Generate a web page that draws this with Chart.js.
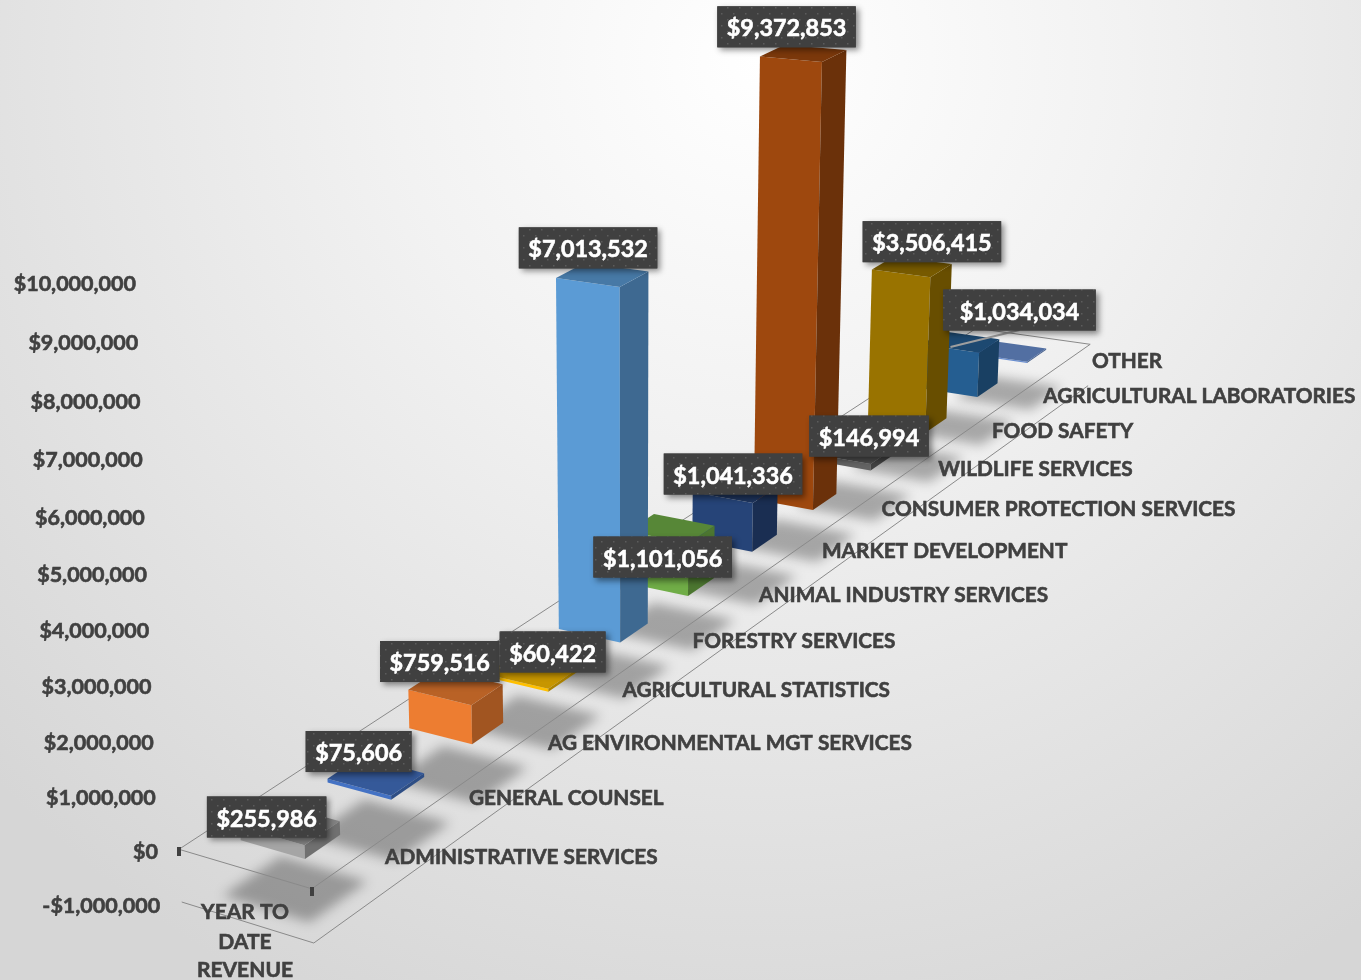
<!DOCTYPE html>
<html>
<head>
<meta charset="utf-8">
<style>html,body{margin:0;padding:0;background:#e6e6e6}canvas{display:block}</style>
<script src="https://cdn.jsdelivr.net/npm/chart.js@4"></script>
</head>
<body>
<canvas id="c" width="1361" height="980"></canvas>
<script>
const categories = ['ADMINISTRATIVE SERVICES','GENERAL COUNSEL','AG ENVIRONMENTAL MGT SERVICES','AGRICULTURAL STATISTICS','FORESTRY SERVICES','ANIMAL INDUSTRY SERVICES','MARKET DEVELOPMENT','CONSUMER PROTECTION SERVICES','WILDLIFE SERVICES','FOOD SAFETY','AGRICULTURAL LABORATORIES','OTHER'];
const revenue = [255986,75606,759516,60422,7013532,1101056,1041336,9372853,146994,3506415,1034034,30000];
const labelled = [true,true,true,true,true,true,true,true,true,true,true,false];
const barColors = ['#A5A5A5','#4472C4','#ED7D31','#FFC000','#5B9BD5','#70AD47','#264478','#9E480E','#636363','#997300','#255E91','#698ED0'];
const seriesName = ['YEAR TO','DATE','REVENUE'];
const axisMin = -1000000, axisMax = 10000000, axisStep = 1000000;

// label nudges (px) from the top centre of each box, as placed by hand in the original: dx, dy, side padding
const labelNudge = [[-23.2,-7,19],[-17.1,-24.4,19],[-15.7,-25.5,19],[20.8,-19.5,19],[-14.1,-26.8,19],[-8.3,28.6,19],[-2.1,-15.2,19],[-16.6,-26.4,19],[16.3,-15.2,19],[20.1,-25.1,19],[58.8,-31.8,33],[0,0,0]];

// Perspective camera: u = depth along categories, w = across a row, h = value in millions
function project(u, w, h) {
  const d = 1 + 0.03234*u + 0.0157*w - 0.00618*h;
  return { x: (305 + 98.85*u - 60.5*w - 3.9*h)/d, y: (859 - 33.35*u - 5.5*w - 59.02*h)/d };
}
// anchor of each category name beside the floor
function rowAnchor(i) {
  const d = 1 + 0.03161*i;
  return { x: (385 + 98.8*i)/d, y: (857 - 33.6*i)/d };
}
const BAR_DEPTH = 0.4, FLOOR = {u0:-0.314, u1:11.7, w0:-0.53, w1:1.529};
const TEXT = '#404040', FONT = 'Lato';

function shade(hex, f) {
  const n = parseInt(hex.slice(1),16);
  return 'rgb('+[(n>>16)&255,(n>>8)&255,n&255].map(c=>Math.round(c*f)).join(',')+')';
}
function poly(ctx, pts) {
  ctx.beginPath();
  pts.forEach((p,i)=> i?ctx.lineTo(p.x,p.y):ctx.moveTo(p.x,p.y));
  ctx.closePath();
}

class PerspectiveValueScale extends Chart.LinearScale {
  static id = 'perspectiveValue';
  static defaults = Chart.LinearScale.defaults;
  getPixelForValue(v){ const h=v/1e6; return (851-58.16*h)/(1-0.00481*h); }
  getValueForPixel(p){ return 1e6*(p-851)/(-58.16+0.00481*p); }
  _computeLabelArea(){ return undefined; }
  _computeLabelItems(area){
    const items = super._computeLabelItems(area);
    items.forEach((it,i)=>{
      const h = this.ticks[i].value/1e6;
      it.options.translation = [158-2.2*h, this.getPixelForValue(this.ticks[i].value)+1];
      it.options.textAlign = 'right';
      it.options.textBaseline = 'middle';
      it.textOffset = 0;
    });
    return items;
  }
}
class DepthCategoryScale extends Chart.CategoryScale {
  static id = 'depthCategory';
  static defaults = Chart.CategoryScale.defaults;
  _computeLabelArea(){ return undefined; }
  _computeLabelItems(area){
    const items = super._computeLabelItems(area);
    items.forEach((it,i)=>{
      const p = rowAnchor(i);
      it.options.translation = [p.x,p.y];
      it.options.textAlign = 'left';
      it.options.textBaseline = 'middle';
      it.textOffset = 0;
    });
    return items;
  }
}
class Box3DController extends Chart.BarController {
  static id = 'box3d';
  static defaults = Chart.BarController.defaults;
  static overrides = Chart.BarController.overrides;
  updateElements(bars,start,count,mode){
    super.updateElements(bars,start,count,mode);
    for(let k=start;k<start+count;k++){
      const h = this.getParsed(k).y/1e6;
      const top = project(k+BAR_DEPTH/2,0.5,h), base = project(k+BAR_DEPTH/2,0.5,0);
      const a = project(k,0,0), b = project(k,1,0);
      Object.assign(bars[k],{x:top.x,y:top.y,base:base.y,width:Math.abs(a.x-b.x)});
    }
  }
  draw(){
    const ctx = this.chart.ctx, ds = this.getDataset();
    ctx.save();
    for(let k=this._cachedMeta.data.length-1;k>=0;k--){
      const h = this.getParsed(k).y/1e6, c = ds.backgroundColor[k];
      const u0=k,u1=k+BAR_DEPTH;
      const fb0=project(u0,1,0),fb1=project(u0,0,0),sb=project(u1,0,0);
      const ft0=project(u0,1,h),ft1=project(u0,0,h),st=project(u1,0,h),bt=project(u1,1,h);
      ctx.fillStyle=c; poly(ctx,[fb0,fb1,ft1,ft0]); ctx.fill();
      ctx.fillStyle=shade(c,0.68); poly(ctx,[fb1,sb,st,ft1]); ctx.fill();
      ctx.fillStyle=shade(c,0.78); poly(ctx,[ft0,ft1,st,bt]); ctx.fill();
    }
    ctx.restore();
  }
}
Chart.register(PerspectiveValueScale, DepthCategoryScale, Box3DController);

const backdropPlugin = {
  id:'backdrop',
  beforeDraw(chart){
    const {ctx,width,height}=chart;
    const g=ctx.createRadialGradient(760,60,0,760,60,1050);
    g.addColorStop(0,'#ffffff');g.addColorStop(0.35,'#f2f2f2');g.addColorStop(1,'#d6d6d6');
    ctx.save();ctx.fillStyle=g;ctx.fillRect(0,0,width,height);ctx.restore();
  }
};
const floorPlugin = {
  id:'floor',
  beforeDatasetsDraw(chart){
    const ctx=chart.ctx;
    const low=axisMin/1e6;
    ctx.save();
    // soft shadows of each box on the lower plane
    ctx.filter='blur(6px)';
    ctx.fillStyle='rgba(0,0,0,0.3)';
    chart.data.datasets[0].data.forEach((v,k)=>{
      const a=k-0.1,b=k+BAR_DEPTH+0.16;
      poly(ctx,[project(a,1.18,low),project(a,-0.18,low),project(b,-0.18,low),project(b,1.18,low)]);
      ctx.fill();
    });
    ctx.filter='none';
    // floor lines
    ctx.strokeStyle='#8a8a8a';ctx.lineWidth=1;
    const F=FLOOR;
    const path=(pts)=>{ctx.beginPath();pts.forEach((p,i)=>i?ctx.lineTo(p.x,p.y):ctx.moveTo(p.x,p.y));ctx.stroke();};
    path([project(F.u0,F.w1,0),project(F.u1,F.w1,0),project(F.u1,F.w0,0),project(F.u0,F.w0,0),project(F.u0,F.w1,0)]);
    path([project(F.u0,F.w1,low),project(F.u0,F.w0,low),project(F.u1,F.w0,low)]);
    // tick stubs
    ctx.fillStyle='#404040';
    [F.w1,F.w0].forEach(w=>{const p=project(F.u0,w,0);ctx.fillRect(Math.round(p.x)-2,Math.round(p.y)-2,4,9);});
    ctx.restore();
  }
};
function dotPattern(ctx){
  const t=document.createElement('canvas');t.width=t.height=12;
  const c=t.getContext('2d');
  c.fillStyle='#404040';c.fillRect(0,0,12,12);
  c.fillStyle='#5c5c5c';
  [[1,1],[7,7]].forEach(([x,y])=>c.fillRect(x,y,1.5,1.5));
  return ctx.createPattern(t,'repeat');
}
const valueLabelPlugin = {
  id:'valueLabels',
  afterDatasetsDraw(chart){
    const ctx=chart.ctx, vals=chart.data.datasets[0].data, pat=dotPattern(ctx);
    ctx.save();
    ctx.font='bold 23.4px '+FONT;
    ctx.textAlign='center';ctx.textBaseline='middle';
    vals.forEach((v,k)=>{
      if(!labelled[k]) return;
      const t='$'+v.toLocaleString('en-US');
      const top=project(k+BAR_DEPTH/2,0.5,v/1e6);
      const cx=top.x+labelNudge[k][0], cy=top.y+labelNudge[k][1];
      if(k===10){
        ctx.save();ctx.strokeStyle='#9f9f9f';ctx.lineWidth=2;ctx.beginPath();
        ctx.moveTo(cx-69,cy+37);ctx.lineTo(cx,cy+20);ctx.stroke();ctx.restore();
      }
      const w=ctx.measureText(t).width+labelNudge[k][2], bh=41;
      ctx.save();
      ctx.shadowColor='rgba(0,0,0,0.45)';ctx.shadowBlur=6;ctx.shadowOffsetX=3;ctx.shadowOffsetY=3;
      ctx.fillStyle='#404040';ctx.fillRect(cx-w/2,cy-bh/2,w,bh);
      ctx.restore();
      ctx.fillStyle=pat;ctx.fillRect(cx-w/2,cy-bh/2,w,bh);
      ctx.fillStyle='#ffffff';ctx.strokeStyle='#ffffff';ctx.lineWidth=0.6;
      ctx.fillText(t,cx,cy+2);ctx.strokeText(t,cx,cy+2);
    });
    ctx.restore();
  },
  afterDraw(chart){
    const ctx=chart.ctx;
    ctx.save();
    ctx.font='bold 21px '+FONT;ctx.fillStyle=TEXT;ctx.strokeStyle=TEXT;ctx.lineWidth=0.6;ctx.textAlign='center';ctx.textBaseline='middle';
    const ys=[912,942,970];
    seriesName.forEach((s,i)=>{ctx.fillText(s,245,ys[i]);ctx.strokeText(s,245,ys[i]);});
    ctx.restore();
  }
};
new Chart(document.getElementById('c'),{
  type:'box3d',
  data:{labels:categories,datasets:[{label:'YEAR TO DATE REVENUE',data:revenue,backgroundColor:barColors}]},
  options:{
    responsive:false,animation:false,
    plugins:{legend:{display:false},tooltip:{enabled:false},title:{display:false}},
    scales:{
      x:{type:'depthCategory',grid:{display:false},border:{display:false},
         ticks:{autoSkip:false,maxRotation:0,minRotation:0,z:1,color:TEXT,textStrokeColor:TEXT,textStrokeWidth:0.6,font:{family:FONT,weight:'bold',size:20.8}}},
      y:{type:'perspectiveValue',min:axisMin,max:axisMax,grid:{display:false},border:{display:false},
         ticks:{stepSize:axisStep,autoSkip:false,z:1,color:TEXT,textStrokeColor:TEXT,textStrokeWidth:0.6,font:{family:FONT,weight:'bold',size:21.5},
           callback:v=>(v<0?'-$':'$')+Math.abs(v).toLocaleString('en-US')}}
    }
  },
  plugins:[backdropPlugin,floorPlugin,valueLabelPlugin]
});
</script>
</body>
</html>
